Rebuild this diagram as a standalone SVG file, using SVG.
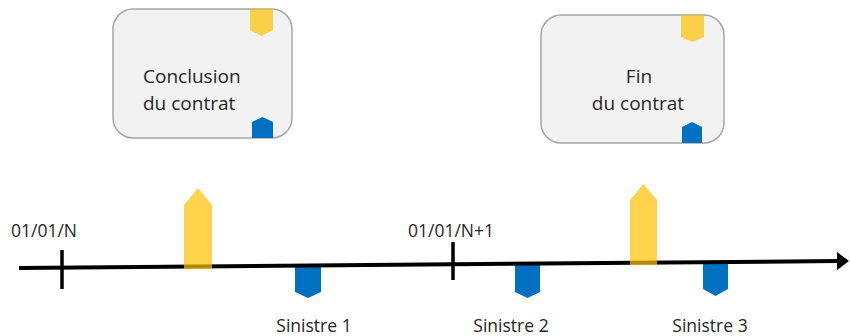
<svg xmlns="http://www.w3.org/2000/svg" width="850" height="336" viewBox="0 0 850 336">
<defs>
<style>
.box{fill:#F2F2F2;stroke:#A6A6A6;stroke-width:1.5}
.yel{fill:#FFC000;fill-opacity:0.7}
.blu{fill:#0070C0}
.t{font-family:"Open Sans","Liberation Sans",sans-serif;fill:#262626}
.bt{font-size:19px}
.lt{font-size:17.5px}
.axis{stroke:#000;stroke-width:4;fill:none}
.tick{stroke:#000;stroke-width:3.5}
</style>
<marker id="arr" markerUnits="userSpaceOnUse" markerWidth="14" markerHeight="20" refX="2" refY="9" orient="auto" viewBox="0 0 14 18">
<path d="M0,0 L12,9 L0,18 Z" fill="#000"/>
</marker>
</defs>

<g id="box-conclusion">
<rect class="box" x="113" y="9" width="179" height="129" rx="20"/>
<polygon class="yel" points="250,9 273,9 273,30 261.5,36 250,30"/>
<polygon class="blu" points="252,138 252,122 262.5,117 273,122 273,138"/>
<text class="t bt" x="143" y="83">Conclusion</text>
<text class="t bt" x="143" y="110">du contrat</text>
</g>

<g id="box-fin">
<rect class="box" x="541" y="15" width="183" height="128" rx="20"/>
<polygon class="yel" points="681,15 704,15 704,37 692.5,42 681,37"/>
<polygon class="blu" points="682,143 682,127 692,122 702,127 702,143"/>
<text class="t bt" x="639" y="83" text-anchor="middle">Fin</text>
<text class="t bt" x="638" y="110" text-anchor="middle">du contrat</text>
</g>

<g id="sinistres">
<g id="sinistre-1">
<polygon class="blu" points="295,267 321,267 321,292 308,298 295,292"/>
<text class="t lt" x="314" y="332" text-anchor="middle">Sinistre 1</text>
</g>
<g id="sinistre-2">
<polygon class="blu" points="515,265 540,265 540,292 527.5,298 515,292"/>
<text class="t lt" x="511" y="332" text-anchor="middle">Sinistre 2</text>
</g>
<g id="sinistre-3">
<polygon class="blu" points="703,264 728,264 728,289 715.5,296 703,289"/>
<text class="t lt" x="710" y="332" text-anchor="middle">Sinistre 3</text>
</g>
</g>

<g id="connectors">
<line class="axis" x1="19" y1="268" x2="839" y2="261" marker-end="url(#arr)"/>
<line class="tick" x1="62" y1="250" x2="62" y2="289"/>
<line class="tick" x1="453" y1="242" x2="453" y2="280"/>
</g>

<g id="dates">
<text class="t lt" x="11" y="237">01/01/N</text>
<text class="t lt" x="408" y="237">01/01/N+1</text>
</g>

<g id="events">
<polygon id="ev-conclusion" class="yel" points="184,269 184,205 198,188 212,205 212,269"/>
<polygon id="ev-fin" class="yel" points="630,265 630,200 643.5,184 657,200 657,265"/>
</g>
</svg>
